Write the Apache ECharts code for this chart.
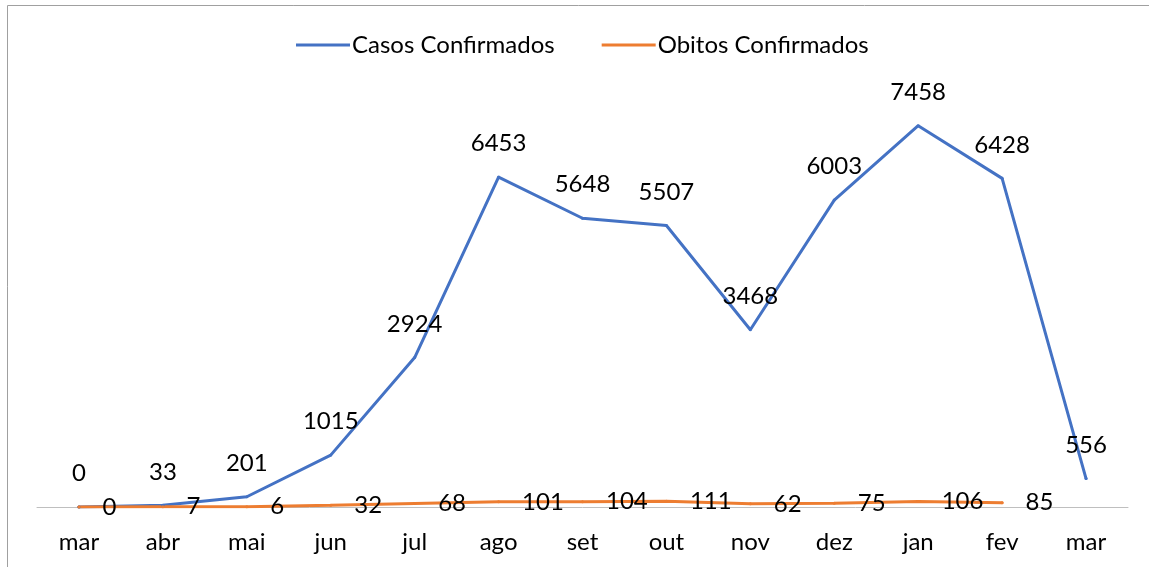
<!DOCTYPE html>
<html>
<head>
<meta charset="utf-8">
<script src="https://cdn.jsdelivr.net/npm/echarts@6/dist/echarts.min.js"></script>
<style>
html,body{margin:0;padding:0;background:#fff;}
#chart{width:1149px;height:567px;}
</style>
</head>
<body>
<div id="chart"></div>
<script>
const categories = ['mar','abr','mai','jun','jul','ago','set','out','nov','dez','jan','fev','mar'];
const casos = [0,33,201,1015,2924,6453,5648,5507,3468,6003,7458,6428,556];
const obitos = [0,7,6,32,68,101,104,111,62,75,106,85,null];
const seriesNames = ['Casos Confirmados','Obitos Confirmados'];

const FONT = 'Lato';
const FS = 24;
const chart = echarts.init(document.getElementById('chart'));
chart.setOption({
  animation:false,
  textStyle:{fontFamily:FONT},
  graphic:[
    {type:'line',shape:{x1:7.5,y1:5.5,x2:7.5,y2:580},style:{stroke:'#a0a0a0',lineWidth:1}},
    {type:'line',shape:{x1:7.5,y1:5.5,x2:1160,y2:5.5},style:{stroke:'#a0a0a0',lineWidth:1}}
  ],
  legend:{
    top:33,
    left:296,
    padding:0,
    itemWidth:54,
    itemHeight:3,
    itemGap:47,
    icon:'rect',
    textStyle:{fontFamily:FONT,fontSize:FS,color:'#000',padding:[0,0,0,-3]},
    data:seriesNames
  },
  grid:{left:37,right:21,top:98,bottom:60},
  xAxis:{
    type:'category',
    data:categories,
    boundaryGap:true,
    axisLine:{lineStyle:{color:'#bfbfbf',width:1}},
    axisTick:{show:false},
    axisLabel:{color:'#000',fontSize:FS,fontFamily:FONT,margin:23}
  },
  yAxis:{
    type:'value',min:0,max:8000,show:false,splitLine:{show:false}
  },
  series:[
    {
      name:seriesNames[0],type:'line',data:casos,
      symbol:'circle',symbolSize:3,showSymbol:true,
      lineStyle:{color:'#4472C4',width:3,cap:'round'},
      itemStyle:{color:'#4472C4'},
      label:{show:true,position:'top',distance:20,color:'#000',fontSize:FS,fontFamily:FONT},
      labelLayout:{hideOverlap:false}
    },
    {
      name:seriesNames[1],type:'line',data:obitos,
      symbol:'circle',symbolSize:3,showSymbol:true,
      lineStyle:{color:'#ED7D31',width:3,cap:'round'},
      itemStyle:{color:'#ED7D31'},
      label:{show:true,position:'right',distance:22,offset:[0,3],color:'#000',fontSize:FS,fontFamily:FONT},
      labelLayout:{hideOverlap:false}
    }
  ]
});
</script>
</body>
</html>
